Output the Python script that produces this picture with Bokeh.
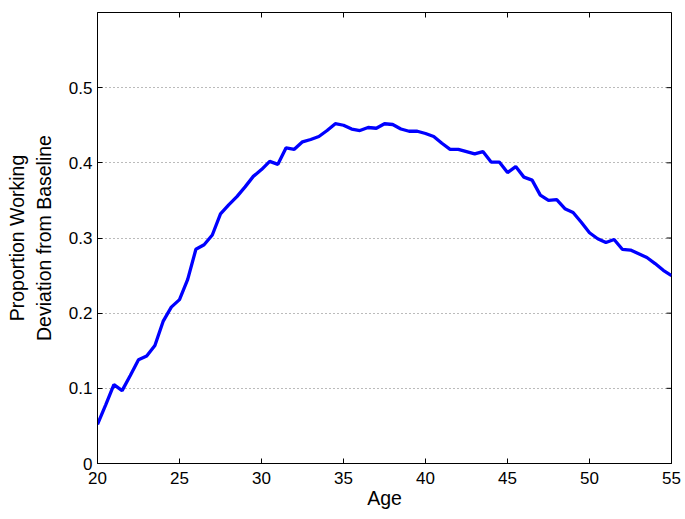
import math
from bokeh.plotting import figure
from bokeh.models import FixedTicker, Range1d
from bokeh.embed import file_html
from bokeh.resources import INLINE

age = [20 + 0.5 * i for i in range(71)]
proportion = [
    0.052, 0.078, 0.105, 0.097, 0.117, 0.138, 0.143, 0.157, 0.189, 0.208,
    0.218, 0.245, 0.285, 0.291, 0.304, 0.332, 0.344, 0.355, 0.368, 0.382,
    0.391, 0.402, 0.398, 0.420, 0.418, 0.428, 0.431, 0.435, 0.443, 0.452,
    0.450, 0.445, 0.443, 0.447, 0.446, 0.452, 0.451, 0.445, 0.442, 0.442,
    0.439, 0.435, 0.426, 0.418, 0.418, 0.415, 0.412, 0.415, 0.401, 0.401,
    0.387, 0.395, 0.381, 0.377, 0.357, 0.350, 0.351, 0.339, 0.334, 0.321,
    0.307, 0.299, 0.294, 0.298, 0.285, 0.284, 0.279, 0.274, 0.266, 0.257,
    0.250,
]
x_ticks = [20, 25, 30, 35, 40, 45, 50, 55]
y_ticks = [0, 0.1, 0.2, 0.3, 0.4, 0.5]
y_tick_labels = {0: "0", 0.1: "0.1", 0.2: "0.2", 0.3: "0.3", 0.4: "0.4", 0.5: "0.5"}
x_min, x_max = 20, 55
y_min, y_max = 0, 0.6

FONT = "Liberation Sans"

p = figure(width=685, height=519, output_backend="svg", toolbar_location=None,
           x_range=Range1d(x_min, x_max), y_range=Range1d(y_min, y_max),
           x_axis_label="Age", y_axis_label="Proportion Working\nDeviation from Baseline",
           min_border_left=97, min_border_right=14, min_border_top=12, min_border_bottom=56)

p.line(age, proportion, line_color="#0000ff", line_width=3.3)

# inward ticks on the top and right edges (half of each dash is clipped by the frame)
p.scatter(x=x_ticks, y=[y_max] * len(x_ticks), marker="dash", angle=math.pi / 2,
          size=10, line_color="black", line_width=1)
p.scatter(x=[x_max] * len(y_ticks), y=y_ticks, marker="dash", angle=0,
          size=10, line_color="black", line_width=1)

p.xgrid.visible = False
p.ygrid.ticker = FixedTicker(ticks=y_ticks[1:])
p.ygrid.grid_line_color = "#777777"
p.ygrid.grid_line_dash = "1 3"
p.ygrid.grid_line_width = 1

p.outline_line_color = "black"
p.outline_line_width = 1
p.outline_line_alpha = 1

for ax in p.xaxis:
    ax.ticker = FixedTicker(ticks=x_ticks)
for ax in p.yaxis:
    ax.ticker = FixedTicker(ticks=y_ticks)
    ax.major_label_overrides = y_tick_labels

for ax in list(p.xaxis) + list(p.yaxis):
    ax.major_tick_in = 5
    ax.major_tick_out = 0
    ax.minor_tick_in = 0
    ax.minor_tick_out = 0
    ax.axis_line_color = "black"
    ax.major_tick_line_color = "black"
    ax.major_label_text_font = FONT
    ax.major_label_text_font_size = "17px"
    ax.major_label_text_color = "black"
    ax.axis_label_text_font = FONT
    ax.axis_label_text_font_size = "19.5px"
    ax.axis_label_text_font_style = "normal"
    ax.axis_label_text_color = "black"

p.xaxis.major_label_standoff = 8
p.xaxis.axis_label_standoff = 0
p.yaxis.major_label_standoff = 5
p.yaxis.axis_label_standoff = 11

open("out.html", "w").write(file_html(p, INLINE))
